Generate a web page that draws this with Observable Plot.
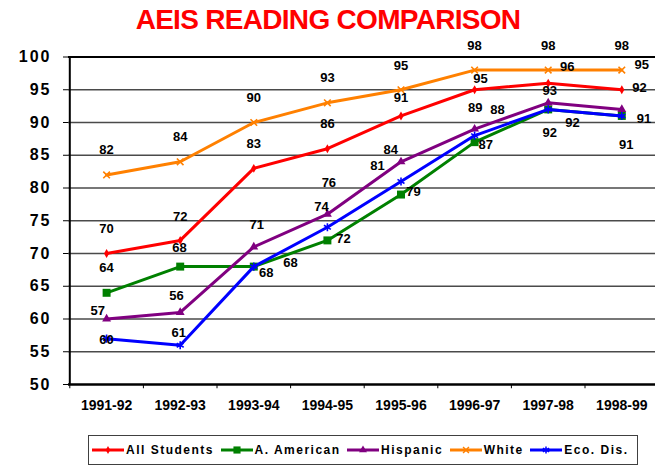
<!DOCTYPE html>
<html><head><meta charset="utf-8">
<script src="https://cdn.jsdelivr.net/npm/d3@7"></script>
<script src="https://cdn.jsdelivr.net/npm/@observablehq/plot@0.6"></script>
<style>
body{margin:0;background:#fff;font-family:"Liberation Sans",Arial,sans-serif;}
#wrap{position:relative;width:655px;height:466px;overflow:hidden;background:#fff;}
#chart{position:absolute;left:0;top:0;}
#title{position:absolute;left:0;width:656px;top:6px;text-align:center;font:bold 28px/28px "Liberation Sans",Arial,sans-serif;color:#ff0000;letter-spacing:-0.7px;white-space:nowrap;}
#legend{position:absolute;left:88px;top:435px;width:550px;height:29.5px;box-sizing:border-box;border:1.5px solid #404040;display:flex;align-items:center;padding-left:3px;gap:6.5px;font:bold 12px "Liberation Sans",Arial,sans-serif;letter-spacing:1.5px;color:#000;background:#fff;}
.item{display:flex;align-items:center;gap:2px;white-space:nowrap;}
.item svg{display:block;}
</style></head>
<body>
<div id="wrap">
  <div id="chart"></div>
  <div id="title">AEIS READING COMPARISON</div>
  <div id="legend"></div>
</div>
<script>
// ---- data ----
const categories = ["1991-92","1992-93","1993-94","1994-95","1995-96","1996-97","1997-98","1998-99"];
const seriesNames = ["All Students","A. American","Hispanic","White","Eco. Dis."];
const allStudents = [70,72,83,86,91,95,96,95];
const aAmerican   = [64,68,68,72,79,87,92,91];
const hispanic    = [60,61,71,76,84,89,93,92];
const white       = [82,84,90,93,95,98,98,98];
const ecoDis      = [57,56,68,74,81,88,92,91];
const yTicks = [50,55,60,65,70,75,80,85,90,95,100];

// data labels as printed in the chart (text, category index, value level where it sits)
const labelText = [
  "82","84","90","93","95","98","98","98",
  "70","72","83","86","91","95","96","95","92","91","91",
  "64","68","68","72","79","87","92",
  "57","56","71","76","84","89","93",
  "60","61","68","74","81","88","92"
];
const labelCat = [
  0,1,2,3,4,5,6,7,
  0,1,2,3,4,5.08,6.26,7.27,7.24,7.30,7.06,
  0,0.99,2.5,3.22,4.17,5.15,6.33,
  -0.12,0.95,2.04,3.02,3.86,5.01,6.02,
  0,0.98,2.17,2.92,3.68,5.31,6.02
];
const labelAt = [
  85.83,87.86,93.77,96.79,98.70,101.76,101.76,101.76,
  73.77,75.65,86.75,89.8,93.77,96.67,98.44,98.8,95.24,90.56,86.6,
  67.76,70.87,68.52,72.24,79.36,86.6,89.89,
  61.3,63.48,74.43,80.79,85.83,92.18,94.89,
  56.87,57.83,67.05,77.07,83.33,91.94,88.43
];

// ---- styling ----
const colors  = ["#ff0000","#008000","#800080","#ff8000","#0000ff"];
const symbols = ["diamond","square","triangle","times","asterisk"];
const d3syms  = [d3.symbolDiamond,d3.symbolSquare,d3.symbolTriangle,d3.symbolTimes,d3.symbolAsterisk];
const radii   = [2.7,4.5,3.3,3.1,3.8];
const filled  = [true,true,true,false,false];

const values = [allStudents,aAmerican,hispanic,white,ecoDis];
const rows = [];
seriesNames.forEach((s,k)=>values[k].forEach((v,i)=>rows.push({series:s,i,v})));
const labels = labelText.map((t,j)=>({t,x:labelCat[j],y:labelAt[j]}));

const marks = [
  Plot.ruleY(yTicks.filter(t=>t>50 && t<100), {stroke:"#4a4a4a", strokeWidth:1.3}),
  Plot.ruleY([100], {stroke:"#000", strokeWidth:1.8}),
  Plot.ruleX(d3.range(-0.5,7,1), {y1:()=>50, y2:()=>49.35, stroke:"#000", strokeWidth:1}),
  Plot.ruleY([50], {stroke:"#000", strokeWidth:2.5}),
  Plot.ruleX([-0.5], {stroke:"#000", strokeWidth:2})
];
seriesNames.forEach((s,k)=>{
  const d = rows.filter(r=>r.series===s);
  marks.push(Plot.line(d,{x:"i",y:"v",stroke:colors[k],strokeWidth:3,strokeLinejoin:"round"}));
  marks.push(Plot.dot(d,{x:"i",y:"v",symbol:symbols[k],r:radii[k],
    fill:filled[k]?colors[k]:"none",stroke:filled[k]?"none":colors[k],strokeWidth:1.6}));
});
marks.push(Plot.text(labels,{x:"x",y:"y",text:"t",fontSize:13,fontWeight:"bold",fill:"#000"}));

const chart = Plot.plot({
  width:655, height:430,
  marginTop:56.5, marginBottom:46, marginLeft:68, marginRight:0,
  style:{background:"transparent", fontFamily:"'Liberation Sans', Arial, sans-serif", color:"#000"},
  x:{domain:[-0.5,7.5], range:[69.3,658.1], ticks:d3.range(8), tickFormat:i=>categories[i],
     tickSize:0, tickPadding:16, label:null},
  y:{domain:[50,100], ticks:yTicks, tickSize:5, tickPadding:12, label:null},
  marks
});
document.getElementById("chart").appendChild(chart);
const sv = d3.select(chart);
sv.selectAll('[aria-label^="y-axis"] text').style("font-size","16px").style("font-weight","bold").style("letter-spacing","2px").style("fill","#000");
sv.selectAll('[aria-label^="x-axis"] text').style("font-size","14px").style("font-weight","bold").style("fill","#000");
sv.selectAll('[aria-label^="y-axis"] line, [aria-label^="y-axis"] path').attr("stroke","#000");

// ---- legend ----
const legend = d3.select("#legend");
seriesNames.forEach((s,k)=>{
  const it = legend.append("div").attr("class","item");
  const sw = it.append("svg").attr("width",32).attr("height",12);
  sw.append("line").attr("x1",0).attr("x2",32).attr("y1",6).attr("y2",6)
    .attr("stroke",colors[k]).attr("stroke-width",3);
  sw.append("path").attr("transform","translate(16,6)")
    .attr("d",d3.symbol(d3syms[k], Math.PI*radii[k]*radii[k]*0.8)())
    .attr("fill",filled[k]?colors[k]:"none")
    .attr("stroke",filled[k]?"none":colors[k]).attr("stroke-width",1.5);
  it.append("span").text(s);
});
</script>
</body></html>
